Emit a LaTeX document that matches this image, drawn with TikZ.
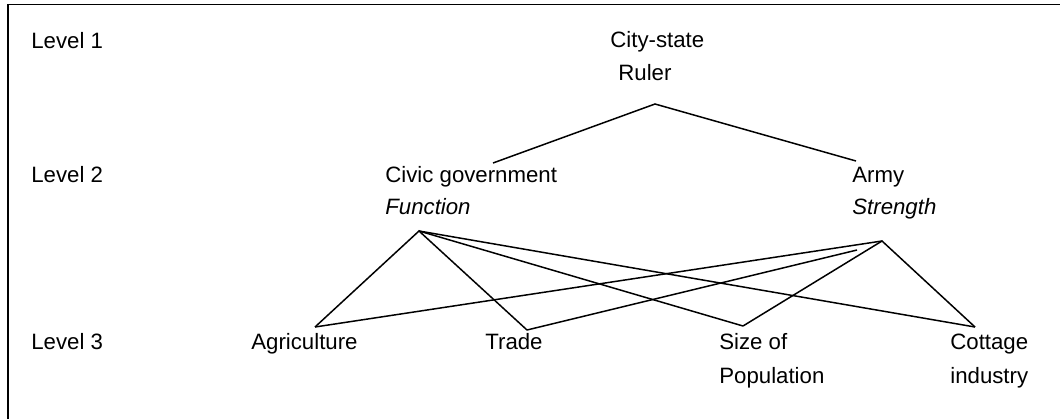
\documentclass[tikz,border=0pt]{standalone}
\usepackage{fontspec}
\setmainfont{Liberation Sans}
\begin{document}
\begin{tikzpicture}[x=0.02cm,y=-0.02cm,
  lbl/.style={anchor=base west,inner sep=0pt,font=\fontsize{12.65}{15}\selectfont},
  ilbl/.style={lbl,font=\fontsize{12.65}{15}\selectfont\itshape},
  link/.style={line width=0.85pt}]
\useasboundingbox (0,0) rectangle (1060,419);
\draw [line width=1pt] (8,419) -- (8,4.5) -- (1060,4.5);
% levels
\node[lbl] (lev1) at (31,48) {Level 1};
\node[lbl] (lev2) at (31,182) {Level 2};
\node[lbl] (lev3) at (31,349) {Level 3};
% level 1
\node[lbl] (city) at (610,47) {City-state};
\node[lbl] (ruler) at (618,80) {Ruler};
% level 2
\node[lbl] (civic) at (385,182) {Civic government};
\node[ilbl] (func) at (385,214) {Function};
\node[lbl] (army) at (852,182) {Army};
\node[ilbl] (strength) at (852,214) {Strength};
% level 3
\node[lbl] (agri) at (251,349) {Agriculture};
\node[lbl] (trade) at (485,349) {Trade};
\node[lbl] (size) at (719,349) {Size of};
\node[lbl] (popu) at (719,383) {Population};
\node[lbl] (cottage) at (950,349) {Cottage};
\node[lbl] (industry) at (950,383) {industry};
% end points of the links
\coordinate (rulerpt) at (655,104);
\coordinate (civicpt) at (493,163);
\coordinate (armypt) at (856,161);
\coordinate (funcpt) at (419,231);
\coordinate (strpt) at (882,241);
\coordinate (tradeend) at (857,250);
\coordinate (agript) at (315,327);
\coordinate (tradept) at (527,330);
\coordinate (sizept) at (743,326);
\coordinate (cottpt) at (975,327);
% links
\draw[link] (civicpt) -- (rulerpt) -- (armypt);
\draw[link] (agript) -- (funcpt) -- (tradept);
\draw[link] (funcpt) -- (sizept);
\draw[link] (funcpt) -- (cottpt);
\draw[link] (agript) -- (strpt);
\draw[link] (tradept) -- (tradeend);
\draw[link] (sizept) -- (strpt) -- (cottpt);
\end{tikzpicture}
\end{document}
